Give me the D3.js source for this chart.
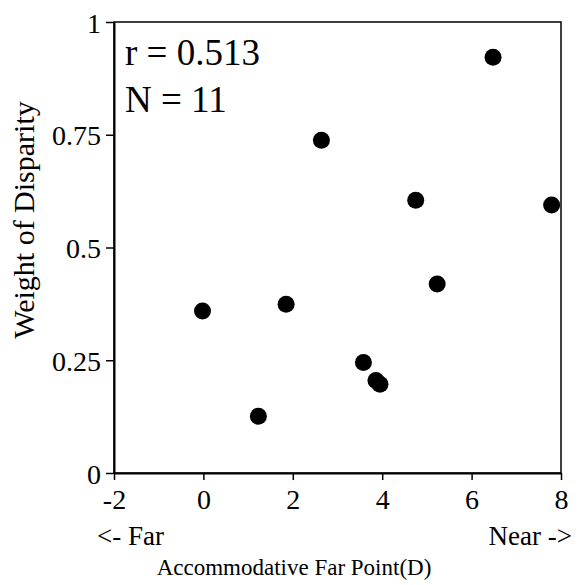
<!DOCTYPE html>
<html>
<head>
<meta charset="utf-8">
<script src="https://d3js.org/d3.v7.min.js"></script>
<style>
body { margin: 0; background: #fff; }
text { font-family: "Liberation Serif", "Times New Roman", serif; fill: #000; }
</style>
</head>
<body>
<div id="chart"></div>
<script>
// data
var farPoint = [-0.02, 1.23, 1.85, 2.64, 3.58, 3.86, 3.95, 4.75, 5.23, 6.48, 7.79]
var weight   = [0.359, 0.126, 0.374, 0.738, 0.245, 0.205, 0.197, 0.605, 0.419, 0.922, 0.594]
var xTicks = [-2, 0, 2, 4, 6, 8]
var yTicks = [0, 0.25, 0.5, 0.75, 1]
var yTickLabels = ["0", "0.25", "0.5", "0.75", "1"]

var width = 578
var height = 585
var plotLeft = 114, plotRight = 561, plotTop = 22, plotBottom = 473

var svg = d3.select("#chart")
  .append("svg")
  .attr("width", width)
  .attr("height", height)

var x = d3.scaleLinear().domain([-2, 8]).range([plotLeft, plotRight])
var y = d3.scaleLinear().domain([0, 1]).range([plotBottom, plotTop])

// frame (top and right sides)
svg.append("rect")
  .attr("x", plotLeft)
  .attr("y", plotTop)
  .attr("width", plotRight - plotLeft)
  .attr("height", plotBottom - plotTop)
  .attr("fill", "none")
  .attr("stroke", "#000")
  .attr("stroke-width", 1.5)

var xAxis = svg.append("g")
  .attr("transform", "translate(0," + plotBottom + ")")
  .call(d3.axisBottom(x).tickValues(xTicks).tickSize(7).tickSizeOuter(0).tickPadding(9))

var yAxis = svg.append("g")
  .attr("transform", "translate(" + plotLeft + ",0)")
  .call(d3.axisLeft(y).tickValues(yTicks).tickSize(8).tickSizeOuter(0).tickPadding(5)
    .tickFormat(function(d, i) { return yTickLabels[i] }))

svg.selectAll(".domain").attr("stroke", "#000").attr("stroke-width", 2)
svg.selectAll(".tick line").attr("stroke", "#000").attr("stroke-width", 1.5)
svg.selectAll(".tick text")
  .style("font-family", "Liberation Serif")
  .style("font-size", "28px")
  .attr("fill", "#000")
// plain hyphen for the minus, like the original
xAxis.selectAll(".tick text").text(function(d) { return String(d) })
yAxis.selectAll(".tick text").attr("dy", "0.36em")

// points
svg.selectAll("circle.pt")
  .data(farPoint)
  .enter()
  .append("circle")
  .attr("class", "pt")
  .attr("cx", function(d) { return x(d) })
  .attr("cy", function(d, i) { return y(weight[i]) })
  .attr("r", 8.5)
  .attr("fill", "#000")

// stats
svg.append("text")
  .attr("x", plotLeft + 11)
  .attr("y", 65)
  .style("font-size", "37px")
  .text("r = 0.513")
svg.append("text")
  .attr("x", plotLeft + 11)
  .attr("y", 112)
  .style("font-size", "37px")
  .text("N = 11")

// axis titles
svg.append("text")
  .attr("transform", "translate(34,220) rotate(-90)")
  .attr("text-anchor", "middle")
  .style("font-size", "30px")
  .text("Weight of Disparity")

svg.append("text")
  .attr("x", 97)
  .attr("y", 545)
  .style("font-size", "27px")
  .text("<- Far")
svg.append("text")
  .attr("x", 572)
  .attr("y", 545)
  .attr("text-anchor", "end")
  .style("font-size", "27px")
  .text("Near ->")
svg.append("text")
  .attr("x", 294)
  .attr("y", 575)
  .attr("text-anchor", "middle")
  .style("font-size", "23px")
  .text("Accommodative Far Point(D)")
</script>
</body>
</html>
